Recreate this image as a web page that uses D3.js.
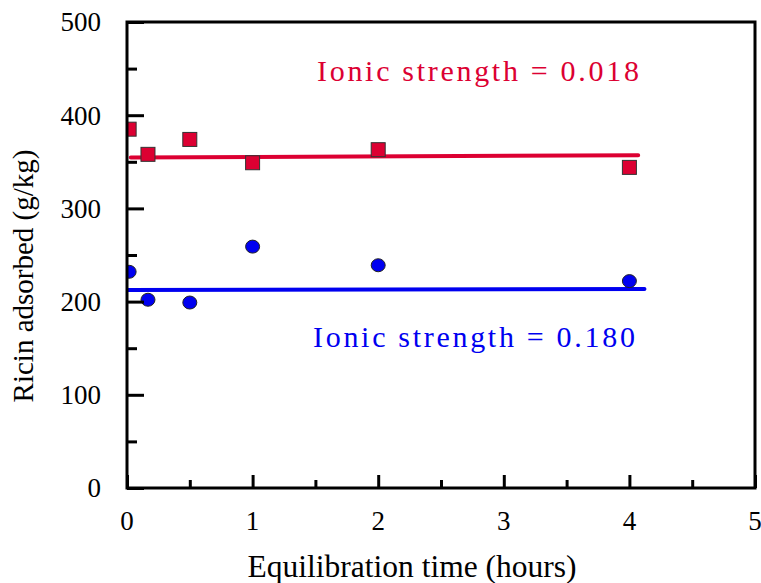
<!DOCTYPE html>
<html>
<head>
<meta charset="utf-8">
<script src="https://cdn.jsdelivr.net/npm/d3@7"></script>
<style>
  body { margin: 0; background: #fff; }
  text { font-family: 'Liberation Serif', 'Times New Roman', serif; }
</style>
</head>
<body>
<div class="chart"></div>
<script>
// equilibration time (hours)
const times = [0.017, 0.167, 0.5, 1, 2, 4]
// ricin adsorbed (g/kg)
const lowIonic = [385, 358, 374, 349, 363, 344]
const highIonic = [232, 202, 199, 259, 239, 222]
// fitted lines
const lowFitX = [0.03, 4.07]
const lowFitY = [354.5, 357]
const highFitX = [0.0, 4.12]
const highFitY = [212.5, 213.5]
const xTicks = [0, 1, 2, 3, 4, 5]
const yTicks = [0, 100, 200, 300, 400, 500]

const red = '#dc0032'
const blue = '#0000f0'

const width = 761
const height = 583
const margin = {left: 127, right: 6, top: 22, bottom: 95}

const svg = d3.select('.chart').append('svg')
  .attr('width', width)
  .attr('height', height)

const x = d3.scaleLinear().domain([0, 5]).range([margin.left, width - margin.right])
const y = d3.scaleLinear().domain([0, 500]).range([height - margin.bottom, margin.top])

svg.append('clipPath').attr('id', 'plot')
  .append('rect')
  .attr('x', x(0)).attr('y', y(500))
  .attr('width', x(5) - x(0)).attr('height', y(0) - y(500))

const plot = svg.append('g').attr('clip-path', 'url(#plot)')

const line = d3.line().x(d => x(d[0])).y(d => y(d[1]))

plot.append('path')
  .attr('d', line(d3.zip(lowFitX, lowFitY)))
  .attr('stroke', red).attr('stroke-width', 4).attr('stroke-linecap', 'round').attr('fill', 'none')
plot.append('path')
  .attr('d', line(d3.zip(highFitX, highFitY)))
  .attr('stroke', blue).attr('stroke-width', 4).attr('stroke-linecap', 'round').attr('fill', 'none')

plot.selectAll('.sq').data(d3.zip(times, lowIonic)).enter().append('rect')
  .attr('x', d => x(d[0]) - 7)
  .attr('y', d => y(d[1]) - 7)
  .attr('width', 14).attr('height', 14)
  .attr('fill', red).attr('stroke', '#333').attr('stroke-width', 1)

plot.selectAll('.dot').data(d3.zip(times, highIonic)).enter().append('ellipse')
  .attr('cx', d => x(d[0]))
  .attr('cy', d => y(d[1]))
  .attr('rx', 7).attr('ry', 6.5)
  .attr('fill', blue).attr('stroke', '#222').attr('stroke-width', 1)

// inward ticks
const xAxis = d3.axisBottom(x).tickValues(d3.range(0, 5.01, 0.5)).tickSize(0).tickFormat('')
const xg = svg.append('g').attr('transform', 'translate(0,' + y(0) + ')').call(xAxis)
xg.select('.domain').remove()
xg.selectAll('.tick line')
  .attr('y2', d => (d % 1 === 0 ? -13 : -8))
  .attr('stroke', '#000').attr('stroke-width', 3)

const yAxis = d3.axisLeft(y).tickValues(d3.range(0, 501, 50)).tickSize(0).tickFormat('')
const yg = svg.append('g').attr('transform', 'translate(' + x(0) + ',0)').call(yAxis)
yg.select('.domain').remove()
yg.selectAll('.tick line')
  .attr('x2', d => (d % 100 === 0 ? 17 : 10))
  .attr('stroke', '#000').attr('stroke-width', 3)

// frame
svg.append('rect')
  .attr('x', x(0)).attr('y', y(500))
  .attr('width', x(5) - x(0)).attr('height', y(0) - y(500))
  .attr('fill', 'none').attr('stroke', '#000').attr('stroke-width', 3)

svg.selectAll('.xl').data(xTicks).enter().append('text')
  .attr('x', d => x(d)).attr('y', 530)
  .attr('text-anchor', 'middle').attr('font-size', 27)
  .text(d => d)

svg.selectAll('.yl').data(yTicks).enter().append('text')
  .attr('x', 101).attr('y', d => y(d)).attr('dy', '0.35em')
  .attr('text-anchor', 'end').attr('font-size', 27)
  .text(d => d)

svg.append('text')
  .attr('x', 412).attr('y', 577)
  .attr('text-anchor', 'middle').attr('font-size', 31.5)
  .text('Equilibration time (hours)')

svg.append('text')
  .attr('transform', 'translate(33,276) rotate(-90)')
  .attr('text-anchor', 'middle').attr('font-size', 29)
  .text('Ricin adsorbed (g/kg)')

svg.append('text')
  .attr('x', 317).attr('y', 81)
  .attr('font-size', 30).attr('letter-spacing', 2.7).attr('fill', red)
  .text('Ionic strength = 0.018')

svg.append('text')
  .attr('x', 313).attr('y', 347)
  .attr('font-size', 30).attr('letter-spacing', 2.7).attr('fill', blue)
  .text('Ionic strength = 0.180')
</script>
</body>
</html>
